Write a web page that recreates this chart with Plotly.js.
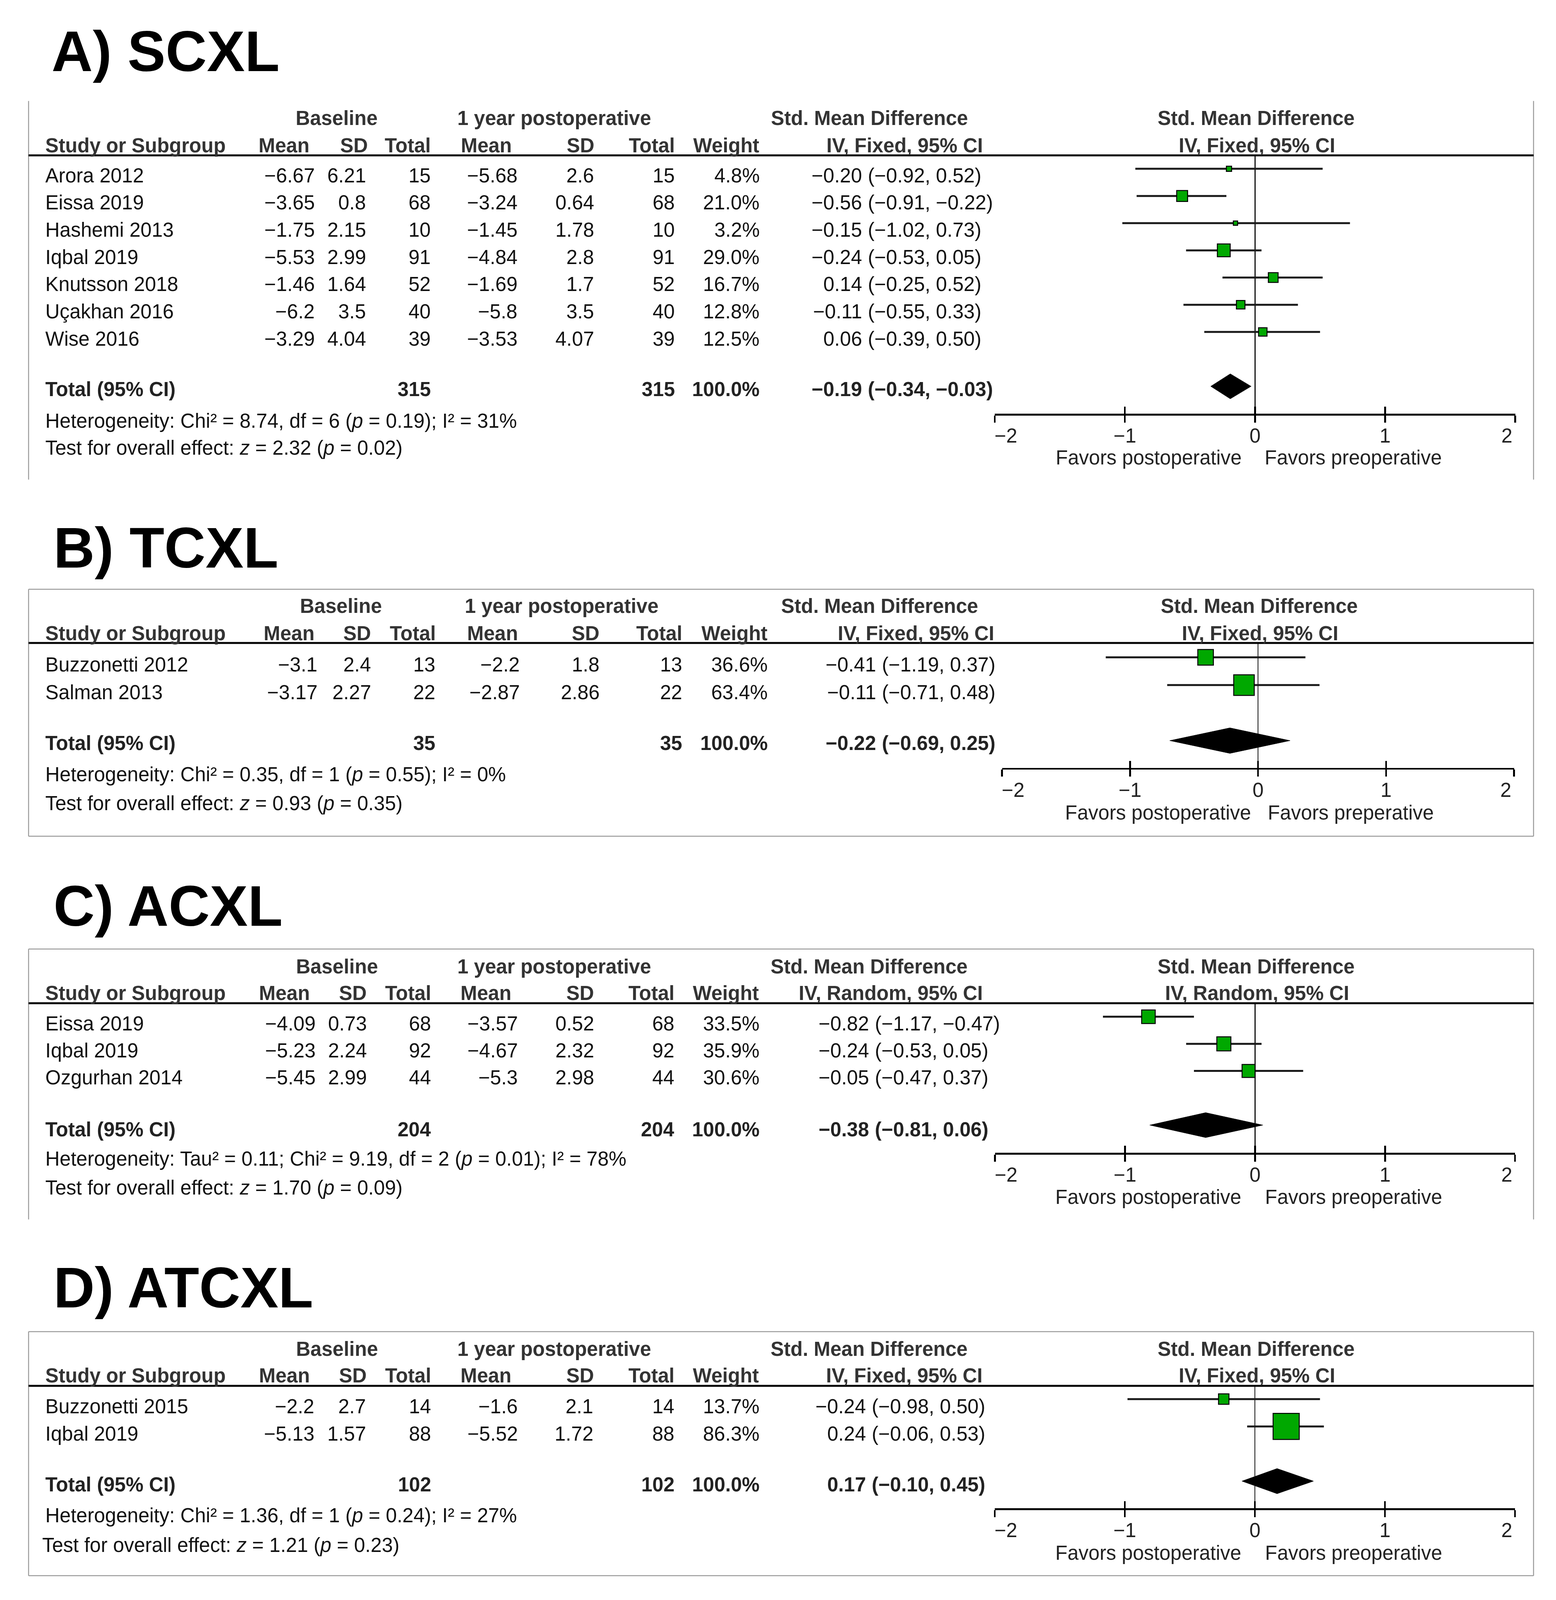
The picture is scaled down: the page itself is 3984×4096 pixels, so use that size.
<!DOCTYPE html>
<html><head><meta charset="utf-8">
<script src="https://cdn.plot.ly/plotly-3.0.1.min.js"></script>
<style>html,body{margin:0;padding:0;background:#fff}#chart{width:3984px;height:4096px}</style>
</head><body><div id="chart"></div>
<script>
// ---------------- DATA ----------------
const panelTitles = ["A) SCXL", "B) TCXL", "C) ACXL", "D) ATCXL"];
const methodLabels = ["IV, Fixed, 95% CI", "IV, Fixed, 95% CI", "IV, Random, 95% CI", "IV, Fixed, 95% CI"];

const studyA = ["Arora 2012", "Eissa 2019", "Hashemi 2013", "Iqbal 2019", "Knutsson 2018", "Uçakhan 2016", "Wise 2016"];
const baseMeanA = [-6.67, -3.65, -1.75, -5.53, -1.46, -6.2, -3.29];
const baseSdA = [6.21, 0.8, 2.15, 2.99, 1.64, 3.5, 4.04];
const baseNA = [15, 68, 10, 91, 52, 40, 39];
const postMeanA = [-5.68, -3.24, -1.45, -4.84, -1.69, -5.8, -3.53];
const postSdA = [2.6, 0.64, 1.78, 2.8, 1.7, 3.5, 4.07];
const postNA = [15, 68, 10, 91, 52, 40, 39];
const weightA = [4.8, 21.0, 3.2, 29.0, 16.7, 12.8, 12.5];
const smdA = [-0.20, -0.56, -0.15, -0.24, 0.14, -0.11, 0.06];
const loA = [-0.92, -0.91, -1.02, -0.53, -0.25, -0.55, -0.39];
const hiA = [0.52, -0.22, 0.73, 0.05, 0.52, 0.33, 0.50];

const studyB = ["Buzzonetti 2012", "Salman 2013"];
const baseMeanB = [-3.1, -3.17];
const baseSdB = [2.4, 2.27];
const baseNB = [13, 22];
const postMeanB = [-2.2, -2.87];
const postSdB = [1.8, 2.86];
const postNB = [13, 22];
const weightB = [36.6, 63.4];
const smdB = [-0.41, -0.11];
const loB = [-1.19, -0.71];
const hiB = [0.37, 0.48];

const studyC = ["Eissa 2019", "Iqbal 2019", "Ozgurhan 2014"];
const baseMeanC = [-4.09, -5.23, -5.45];
const baseSdC = [0.73, 2.24, 2.99];
const baseNC = [68, 92, 44];
const postMeanC = [-3.57, -4.67, -5.3];
const postSdC = [0.52, 2.32, 2.98];
const postNC = [68, 92, 44];
const weightC = [33.5, 35.9, 30.6];
const smdC = [-0.82, -0.24, -0.05];
const loC = [-1.17, -0.53, -0.47];
const hiC = [-0.47, 0.05, 0.37];

const studyD = ["Buzzonetti 2015", "Iqbal 2019"];
const baseMeanD = [-2.2, -5.13];
const baseSdD = [2.7, 1.57];
const baseND = [14, 88];
const postMeanD = [-1.6, -5.52];
const postSdD = [2.1, 1.72];
const postND = [14, 88];
const weightD = [13.7, 86.3];
const smdD = [-0.24, 0.24];
const loD = [-0.98, -0.06];
const hiD = [0.50, 0.53];

const totalN1 = [315, 35, 204, 102];
const totalN2 = [315, 35, 204, 102];
const totalWeight = [100.0, 100.0, 100.0, 100.0];
const totalEst = [-0.19, -0.22, -0.38, 0.17];
const totalLo = [-0.34, -0.69, -0.81, -0.10];
const totalHi = [-0.03, 0.25, 0.06, 0.45];

const hetTexts = [
  "Heterogeneity: Chi² = 8.74, df = 6 (<i>p</i> = 0.19); I² = 31%",
  "Heterogeneity: Chi² = 0.35, df = 1 (<i>p</i> = 0.55); I² = 0%",
  "Heterogeneity: Tau² = 0.11; Chi² = 9.19, df = 2 (<i>p</i> = 0.01); I² = 78%",
  "Heterogeneity: Chi² = 1.36, df = 1 (<i>p</i> = 0.24); I² = 27%"
];
const testTexts = [
  "Test for overall effect: <i>z</i> = 2.32 (<i>p</i> = 0.02)",
  "Test for overall effect: <i>z</i> = 0.93 (<i>p</i> = 0.35)",
  "Test for overall effect: <i>z</i> = 1.70 (<i>p</i> = 0.09)",
  "Test for overall effect: <i>z</i> = 1.21 (<i>p</i> = 0.23)"
];
const favLeft = ["Favors postoperative", "Favors postoperative", "Favors postoperative", "Favors postoperative"];
const favRight = ["Favors preoperative", "Favors preperative", "Favors preoperative", "Favors preoperative"];
const axisTicks = [-2, -1, 0, 1, 2];

const panels = [
  {study: studyA, bm: baseMeanA, bs: baseSdA, bn: baseNA, pm: postMeanA, ps: postSdA, pn: postNA, w: weightA, smd: smdA, lo: loA, hi: hiA},
  {study: studyB, bm: baseMeanB, bs: baseSdB, bn: baseNB, pm: postMeanB, ps: postSdB, pn: postNB, w: weightB, smd: smdB, lo: loB, hi: hiB},
  {study: studyC, bm: baseMeanC, bs: baseSdC, bn: baseNC, pm: postMeanC, ps: postSdC, pn: postNC, w: weightC, smd: smdC, lo: loC, hi: hiC},
  {study: studyD, bm: baseMeanD, bs: baseSdD, bn: baseND, pm: postMeanD, ps: postSdD, pn: postND, w: weightD, smd: smdD, lo: loD, hi: hiD}
];

// ---------------- GEOMETRY (in 1525x1568 reference units) ----------------
const geo = [
  {titleX:50, titleY:50.3, boxTop:99, boxBot:470, top:false, bot:false, hdr1:115.7, hdr2:142.5, hline:152.3,
   line0:165.4, step:26.65, tOff:6.6, totY:381.5, hetY:412.3, testY:439, testX:44, axisY:405.5, xl:975, xr:1485,
   favY:448.6, favPost:1217.4, favPre:1239, c:[44,309,359,422.5,507.5,582.5,662,745,850],
   h:[303.7,361,422.5,501.7,583,662,744.6,964], g:[330,543,852], sq:6.1},
  {titleX:52, titleY:537, boxTop:577.5, boxBot:819.5, top:true, bot:true, hdr1:594, hdr2:620.6, hline:630.1,
   line0:644.2, step:27.2, tOff:7.1, totY:728.3, hetY:759, testY:787.2, testX:44, axisY:752.6, xl:982.1, xr:1483.9,
   favY:796.6, favPost:1226.6, favPre:1242, c:[44,311.6,364,427,510,588,669,753,864],
   h:[308.5,364,427.5,508,588,669,752.7,975], g:[334,550.6,862], sq:6.6},
  {titleX:52, titleY:888, boxTop:930, boxBot:1195, top:true, bot:false, hdr1:947.3, hdr2:973.2, hline:983.2,
   line0:996.4, step:26.55, tOff:6.6, totY:1106.9, hetY:1135.8, testY:1163.9, testX:44, axisY:1129.8, xl:975.2, xr:1484.9,
   favY:1173.3, favPost:1217, favPre:1239.4, c:[44,309.7,360,423,508,582.5,661.5,745,857],
   h:[304,360,423,501.5,582.5,661.5,744,963.5], g:[330.5,543,851.7], sq:6.0},
  {titleX:52, titleY:1262, boxTop:1305, boxBot:1544.2, top:true, bot:true, hdr1:1321.9, hdr2:1348, hline:1358.1,
   line0:1371.1, step:26.8, tOff:7.4, totY:1454.8, hetY:1485.3, testY:1514.4, testX:40.8, axisY:1478.2, xl:975, xr:1484.9,
   favY:1522, favPost:1217, favPre:1239.4, c:[44,308.5,359,423,508,582,661.5,745,854],
   h:[304,360,423,501.5,582.5,661.5,744,963.5], g:[330.5,543,851.7], sq:7.2}
];

const FONT = "Liberation Sans, Arial, Helvetica, sans-serif";
const FS = 51;
const GREEN = "#00a800";
const BOXL = 28, BOXR = 1503;
const NB = "\u00a0";

function px(sx) { return sx / 1525; }
function py(sy) { return 1 - sy / 1568; }
function num(v) { return (v < 0 ? "\u2212" : "") + String(Math.abs(v)); }
function f2(v) { return (v < 0 ? "\u2212" : "") + Math.abs(v).toFixed(2); }
function ci(lo, hi) { return "(" + f2(lo) + ", " + f2(hi) + ")"; }
function ann(sx, sy, text, anchor, opt) {
  opt = opt || {};
  return {xref: "paper", yref: "paper", x: px(sx), y: py(sy), text: text, showarrow: false,
    xanchor: anchor, yanchor: "middle", borderpad: 0,
    font: {family: FONT, size: opt.size || FS, color: opt.color || "#111"}};
}
function line(x0, y0, x1, y1, color, width) {
  return {type: "line", xref: "paper", yref: "paper", x0: px(x0), y0: py(y0), x1: px(x1), y1: py(y1),
    line: {color: color, width: width}};
}
// tick labels: outer labels nudged inward as in the reference
const tickText = axisTicks.map(function (v, k) {
  let s = num(v);
  if (k === 0) s = NB.repeat(4) + s;
  if (k === axisTicks.length - 1) s = s + NB.repeat(3);
  return s;
});

const data = [];
const annotations = [];
const shapes = [];
const layout = {
  width: 3984, height: 4096, margin: {l: 0, r: 0, t: 0, b: 0},
  paper_bgcolor: "#fff", plot_bgcolor: "rgba(0,0,0,0)", showlegend: false
};

panels.forEach(function (P, i) {
  const G = geo[i];
  const sfx = i === 0 ? "" : String(i + 1);
  const xa = "x" + sfx, ya = "y" + sfx;
  const xo = "x" + (i + 5);
  const n = P.study.length;
  const rows = P.study.map(function (_, j) { return j; });
  const totRow = n + 1;
  const x0 = (G.xl + G.xr) / 2;

  // title
  annotations.push(ann(G.titleX, G.titleY, "<b>" + panelTitles[i] + "</b>", "left", {size: 146, color: "#000"}));

  // box & header line
  shapes.push(line(BOXL, G.boxTop, BOXL, G.boxBot, "#9a9a9a", 2.5));
  shapes.push(line(BOXR, G.boxTop, BOXR, G.boxBot, "#9a9a9a", 2.5));
  if (G.top) shapes.push(line(BOXL, G.boxTop, BOXR, G.boxTop, "#9a9a9a", 2.5));
  if (G.bot) shapes.push(line(BOXL, G.boxBot, BOXR, G.boxBot, "#9a9a9a", 2.5));
  shapes.push(line(BOXL, G.hline, BOXR, G.hline, "#000", 5));

  // headers
  const HC = "#333";
  const hb = function (s) { return "<b>" + s + "</b>"; };
  annotations.push(ann(G.g[0], G.hdr1, hb("Baseline"), "center", {color: HC}));
  annotations.push(ann(G.g[1], G.hdr1, hb("1 year postoperative"), "center", {color: HC}));
  annotations.push(ann(G.g[2], G.hdr1, hb("Std. Mean Difference"), "center", {color: HC}));
  annotations.push(ann(x0 + 1, G.hdr1, hb("Std. Mean Difference"), "center", {color: HC}));
  annotations.push(ann(G.c[0], G.hdr2, hb("Study or Subgroup"), "left", {color: HC}));
  const hdrs = ["Mean", "SD", "Total", "Mean", "SD", "Total", "Weight", methodLabels[i]];
  hdrs.forEach(function (t, k) { annotations.push(ann(G.h[k], G.hdr2, hb(t), "right", {color: HC})); });
  annotations.push(ann(x0 + 2, G.hdr2, hb(methodLabels[i]), "center", {color: HC}));

  // study rows
  rows.forEach(function (j) {
    const yT = G.line0 + j * G.step + G.tOff;
    annotations.push(ann(G.c[0], yT, P.study[j], "left"));
    const vals = [num(P.bm[j]), num(P.bs[j]), String(P.bn[j]), num(P.pm[j]), num(P.ps[j]), String(P.pn[j]), P.w[j].toFixed(1) + "%"];
    vals.forEach(function (v, k) { annotations.push(ann(G.c[k + 1], yT, v, "right")); });
    annotations.push(ann(G.c[8] - 5, yT, f2(P.smd[j]), "right"));
    annotations.push(ann(G.c[8], yT, ci(P.lo[j], P.hi[j]), "left"));
  });

  // totals row
  const b = function (s) { return "<b>" + s + "</b>"; };
  annotations.push(ann(G.c[0], G.totY, b("Total (95% CI)"), "left", {color: "#222"}));
  annotations.push(ann(G.c[3], G.totY, b(String(totalN1[i])), "right", {color: "#222"}));
  annotations.push(ann(G.c[6], G.totY, b(String(totalN2[i])), "right", {color: "#222"}));
  annotations.push(ann(G.c[7], G.totY, b(totalWeight[i].toFixed(1) + "%"), "right", {color: "#222"}));
  annotations.push(ann(G.c[8] - 5, G.totY, b(f2(totalEst[i])), "right", {color: "#222"}));
  annotations.push(ann(G.c[8], G.totY, b(ci(totalLo[i], totalHi[i])), "left", {color: "#222"}));
  annotations.push(ann(G.c[0], G.hetY, hetTexts[i], "left"));
  annotations.push(ann(G.testX, G.testY, testTexts[i], "left"));
  annotations.push(ann(G.favPost, G.favY, favLeft[i], "right", {color: "#222"}));
  annotations.push(ann(G.favPre, G.favY, favRight[i], "left", {color: "#222"}));

  // axes
  const rBottom = (G.axisY - G.line0) / G.step;
  const rTop = (G.hline - G.line0) / G.step;
  layout["xaxis" + sfx] = {
    domain: [px(G.xl), px(G.xr)], range: [-2, 2], anchor: ya, fixedrange: true,
    showline: true, linecolor: "#000", linewidth: 4.5,
    ticks: "outside", ticklen: 18, tickwidth: 4.5, tickcolor: "#000",
    tickmode: "array", tickvals: axisTicks, ticktext: tickText, ticklabelstandoff: -10,
    tickfont: {family: FONT, size: FS, color: "#222"},
    showgrid: false, zeroline: true, zerolinecolor: "#111", zerolinewidth: 2.5
  };
  layout["xaxis" + (i + 5)] = {
    overlaying: xa, anchor: ya, range: [-2, 2], fixedrange: true,
    showline: false, ticks: "inside", ticklen: 18, tickwidth: 4.5, tickcolor: "#000",
    tickmode: "array", tickvals: axisTicks, showticklabels: false, showgrid: false, zeroline: false
  };
  layout["yaxis" + sfx] = {
    domain: [py(G.axisY), py(G.hline)], range: [rBottom, rTop], visible: false, fixedrange: true
  };

  // study estimates with confidence intervals
  data.push({
    type: "scatter", mode: "markers", x: P.smd, y: rows, xaxis: xa, yaxis: ya, hoverinfo: "skip", cliponaxis: false,
    marker: {symbol: "square", opacity: 1, size: P.w.map(function (w) { return G.sq * Math.sqrt(w); }), color: GREEN,
      line: {color: "#000", width: 2.5}},
    error_x: {type: "data", symmetric: false,
      array: P.hi.map(function (h, j) { return h - P.smd[j]; }),
      arrayminus: P.lo.map(function (l, j) { return P.smd[j] - l; }),
      width: 0, thickness: 5, color: "#1a1a1a"}
  });
  // pooled diamond
  const e = totalEst[i], lo = totalLo[i], hi = totalHi[i], hh = 0.46;
  data.push({
    type: "scatter", mode: "lines", x: [lo, e, hi, e, lo], y: [totRow, totRow - hh, totRow, totRow + hh, totRow],
    xaxis: xa, yaxis: ya, fill: "toself", fillcolor: "#000", line: {color: "#000", width: 1}, hoverinfo: "skip"
  });
  // anchor trace for the overlaid tick axis
  data.push({type: "scatter", mode: "markers", x: [e], y: [totRow], xaxis: xo, yaxis: ya,
    marker: {opacity: 0, size: 1}, hoverinfo: "skip"});
});

layout.annotations = annotations;
layout.shapes = shapes;
Plotly.newPlot("chart", data, layout, {staticPlot: true, displayModeBar: false});
</script>
</body></html>
